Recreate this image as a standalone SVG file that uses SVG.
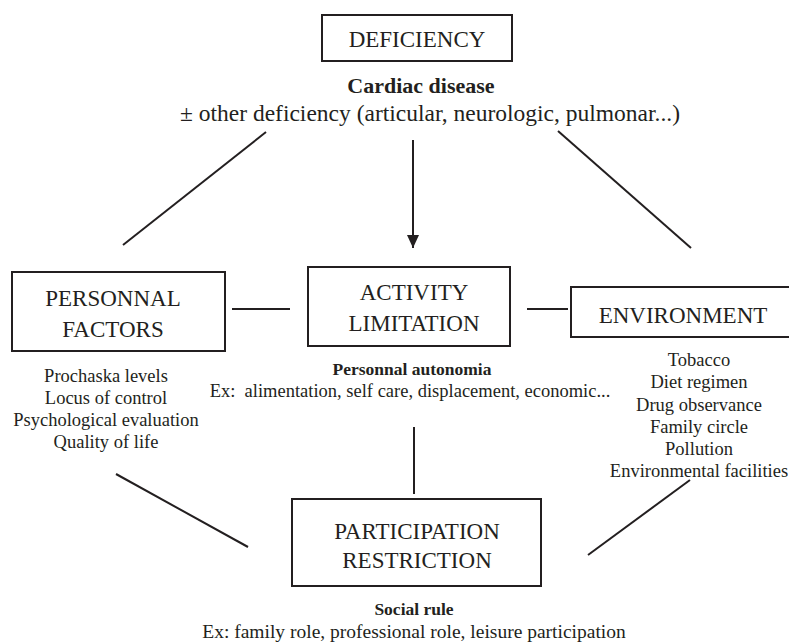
<svg xmlns="http://www.w3.org/2000/svg" width="789" height="644" viewBox="0 0 789 644" font-family="'Liberation Serif', Tinos, 'Times New Roman', Times, 'DejaVu Serif', 'Noto Serif', serif">
<style>
text{font-family:'Liberation Serif',Tinos,'Times New Roman',Times,'DejaVu Serif','Noto Serif',serif;fill:#231f20;text-anchor:middle}
.box{fill:#fff;stroke:#231f20;stroke-width:2}
.big{font-size:23px}
.lst{font-size:18.5px}
.b{font-weight:bold;font-size:17.5px}
.ln{stroke:#231f20;stroke-width:2;fill:none}
</style>
<defs>
<marker id="ah" markerWidth="14" markerHeight="14" refX="13" refY="6.5" orient="auto" markerUnits="userSpaceOnUse">
<path d="M0,0.5 L13,6.5 L0,12.5 Z" fill="#231f20"/>
</marker>
</defs>
<rect width="789" height="644" fill="#fff"/>
<g id="connectors">
<line class="ln" x1="266" y1="132" x2="123" y2="245"/>
<line class="ln" x1="413" y1="140" x2="413" y2="248" marker-end="url(#ah)"/>
<line class="ln" x1="558" y1="131" x2="691" y2="248"/>
<line class="ln" x1="232" y1="309" x2="290" y2="309"/>
<line class="ln" x1="527" y1="309" x2="568" y2="309"/>
<line class="ln" x1="414" y1="427" x2="414" y2="494"/>
<line class="ln" x1="116" y1="474" x2="248" y2="547"/>
<line class="ln" x1="690" y1="480" x2="588" y2="555"/>
</g>
<g id="deficiency">
<rect class="box" x="322" y="15" width="190" height="46"/>
<text class="big" x="417" y="47">DEFICIENCY</text>
<text x="421" y="93" class="b" style="font-size:22px">Cardiac disease</text>
<text x="430" y="121" style="font-size:23.5px">± other deficiency (articular, neurologic, pulmonar...)</text>
</g>
<g id="personnal-factors">
<rect class="box" x="12" y="272" width="213" height="79"/>
<text class="big" x="113" y="306">PERSONNAL</text>
<text class="big" x="113" y="337">FACTORS</text>
<text class="lst" x="106" y="382">Prochaska levels</text>
<text class="lst" x="106" y="404">Locus of control</text>
<text class="lst" x="106" y="426">Psychological evaluation</text>
<text class="lst" x="106" y="448">Quality of life</text>
</g>
<g id="activity-limitation">
<rect class="box" x="308" y="267" width="202" height="79"/>
<text class="big" x="414" y="300">ACTIVITY</text>
<text class="big" x="414" y="331">LIMITATION</text>
<text x="412" y="375" class="b">Personnal autonomia</text>
<text class="lst" x="410" y="397" xml:space="preserve">Ex:  alimentation, self care, displacement, economic...</text>
</g>
<g id="environment">
<rect class="box" x="571" y="287" width="222" height="50"/>
<text class="big" x="683" y="323">ENVIRONMENT</text>
<text class="lst" x="699" y="366">Tobacco</text>
<text class="lst" x="699" y="388">Diet regimen</text>
<text class="lst" x="699" y="411">Drug observance</text>
<text class="lst" x="699" y="433">Family circle</text>
<text class="lst" x="699" y="455">Pollution</text>
<text class="lst" x="699" y="477">Environmental facilities</text>
</g>
<g id="participation-restriction">
<rect class="box" x="292" y="499" width="249" height="87"/>
<text class="big" x="417" y="539">PARTICIPATION</text>
<text class="big" x="417" y="568">RESTRICTION</text>
<text x="414" y="615" class="b">Social rule</text>
<text class="lst" x="414" y="638" style="font-size:19.5px">Ex: family role, professional role, leisure participation</text>
</g>
</svg>
